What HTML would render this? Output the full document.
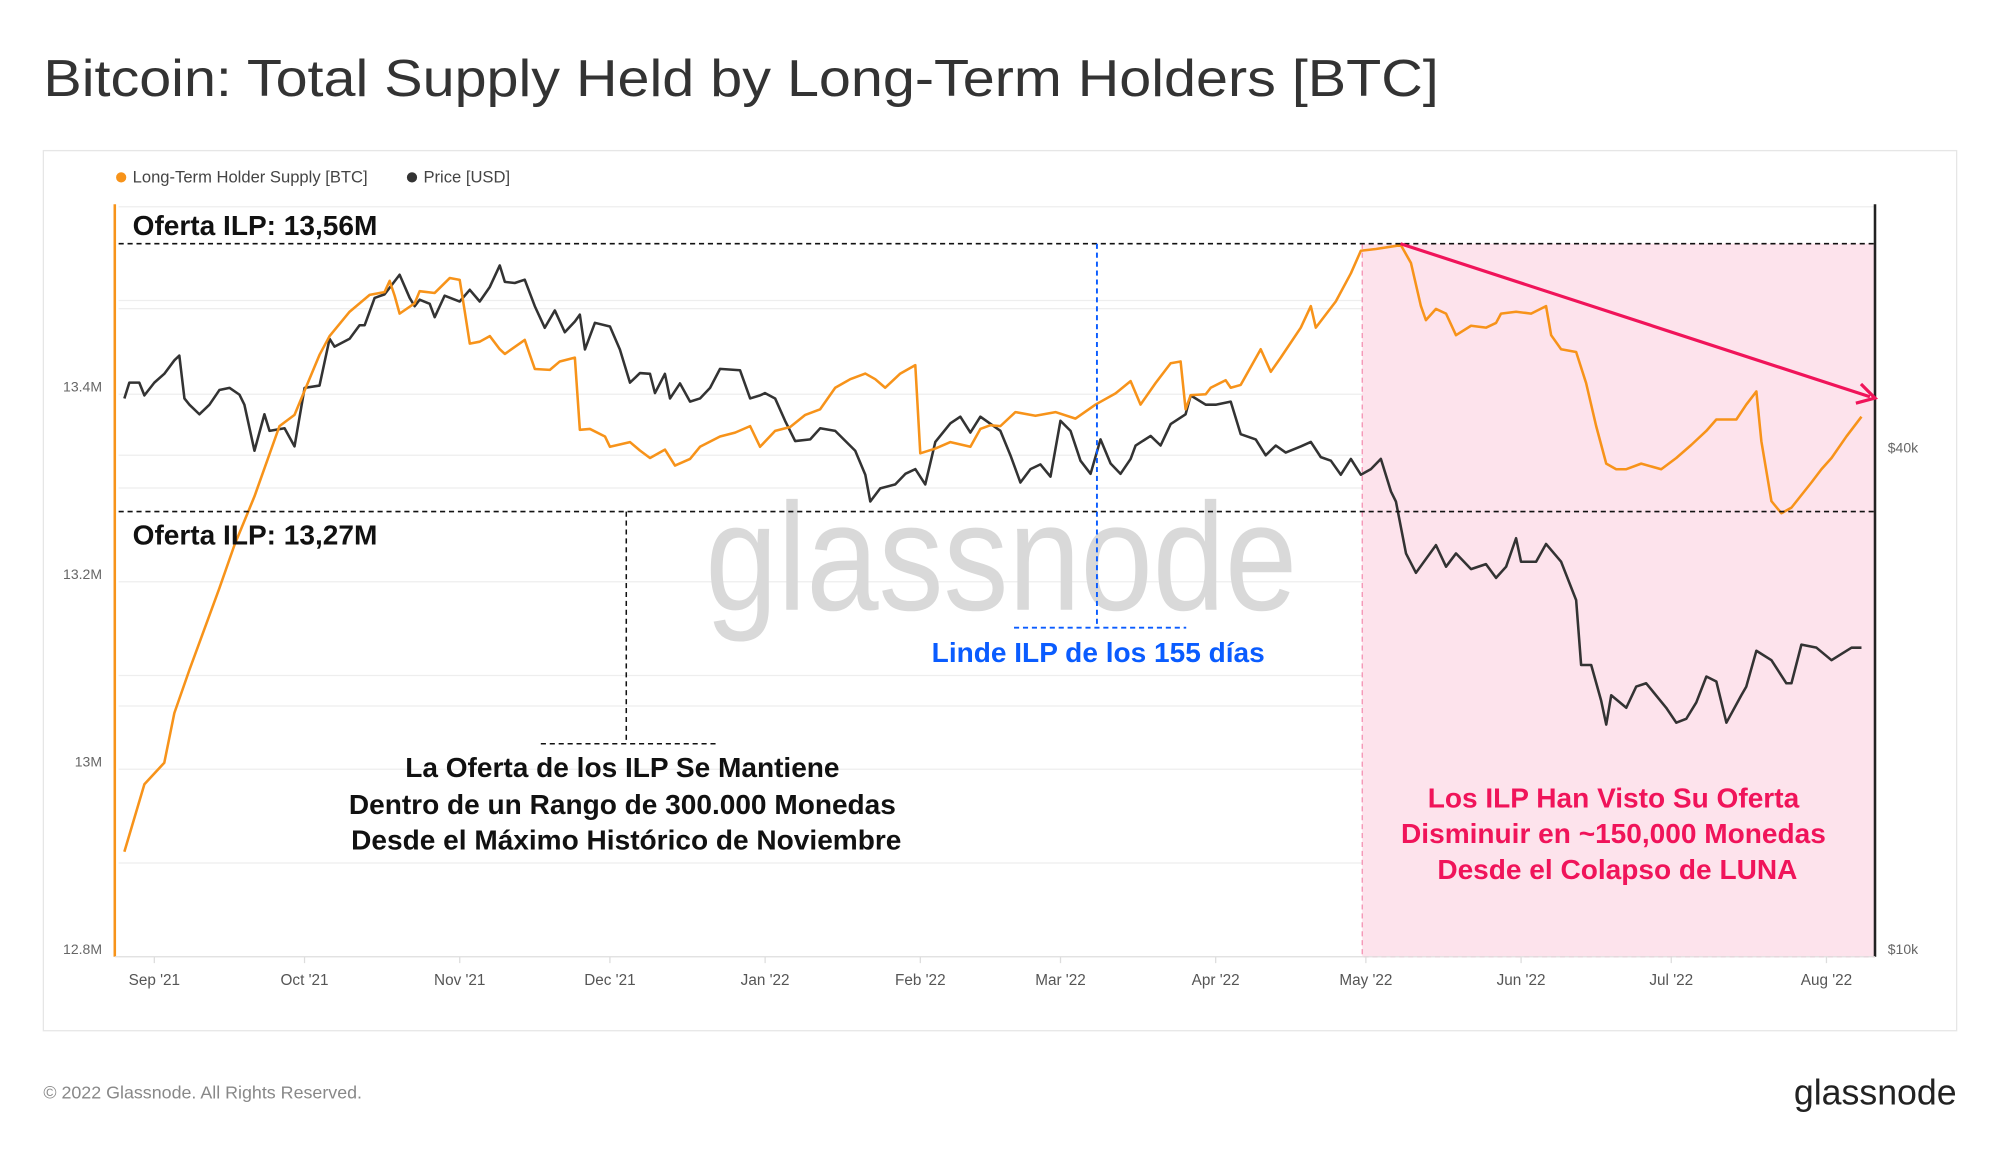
<!DOCTYPE html>
<html><head><meta charset="utf-8"><style>
html,body{margin:0;padding:0;background:#fff;}
svg{display:block;font-family:"Liberation Sans",sans-serif;}
</style></head><body>
<svg id="chart" width="2000" height="1152" viewBox="0 0 1568 903" xmlns="http://www.w3.org/2000/svg">
<text x="34" y="75" font-size="41" fill="#333" textLength="1094" lengthAdjust="spacingAndGlyphs">Bitcoin: Total Supply Held by Long-Term Holders [BTC]</text>
<rect x="34" y="118" width="1500" height="690" fill="#fff" stroke="#e6e6e6"/>
<g>
<circle cx="95" cy="139" r="4" fill="#f7931a"/>
<text x="104" y="143" font-size="13" fill="#444">Long-Term Holder Supply [BTC]</text>
<circle cx="323" cy="139" r="4" fill="#333"/>
<text x="332" y="143" font-size="13" fill="#444">Price [USD]</text>
</g>
<g id="grid"></g>
<rect x="1068" y="191" width="402" height="559" fill="#fde3ec"/>
<path d="M1068 191 V750 H1470" fill="none" stroke="#f48fb1" stroke-dasharray="4,3"/>
<text x="553" y="478" font-size="120" fill="#d9d9d9" textLength="464" lengthAdjust="spacingAndGlyphs">glassnode</text>
<g id="axes"></g>
<g id="series"></g>
<g>
<line x1="93" y1="191" x2="1470" y2="191" stroke="#111" stroke-width="1.3" stroke-dasharray="4,3"/>
<line x1="93" y1="401" x2="1470" y2="401" stroke="#111" stroke-width="1.3" stroke-dasharray="4,3"/>
<text x="104" y="184" font-size="22" font-weight="bold" fill="#111">Oferta ILP: 13,56M</text>
<text x="104" y="427" font-size="22" font-weight="bold" fill="#111">Oferta ILP: 13,27M</text>
<line x1="491" y1="401" x2="491" y2="583" stroke="#111" stroke-width="1.2" stroke-dasharray="4,3"/>
<line x1="424" y1="583" x2="562" y2="583" stroke="#111" stroke-width="1.2" stroke-dasharray="4,3"/>
<text font-size="22" font-weight="bold" fill="#111" text-anchor="middle">
<tspan x="491" y="609">La Oferta de los ILP Se Mantiene</tspan>
<tspan x="491" y="638">Dentro de un Rango de 300.000 Monedas</tspan>
<tspan x="491" y="666">Desde el Máximo Histórico de Noviembre</tspan>
</text>
<line x1="860" y1="191" x2="860" y2="492" stroke="#0a5cff" stroke-width="1.5" stroke-dasharray="4,3"/>
<line x1="795" y1="492" x2="930" y2="492" stroke="#0a5cff" stroke-width="1.5" stroke-dasharray="4,3"/>
<text x="861" y="519" font-size="22" font-weight="bold" fill="#0a5cff" text-anchor="middle">Linde ILP de los 155 días</text>
<line x1="1098" y1="191" x2="1466" y2="311" stroke="#f0145a" stroke-width="2.5"/>
<path d="M1459 301 L1470 312 L1455 316" fill="none" stroke="#f0145a" stroke-width="2.5"/>
<text font-size="22" font-weight="bold" fill="#f0145a" text-anchor="middle">
<tspan x="1268" y="633">Los ILP Han Visto Su Oferta</tspan>
<tspan x="1268" y="661">Disminuir en ~150,000 Monedas</tspan>
<tspan x="1268" y="689">Desde el Colapso de LUNA</tspan>
</text>
</g>
<text x="34" y="861" font-size="14" fill="#888">© 2022 Glassnode. All Rights Reserved.</text>
<text x="1534" y="866" font-size="28" fill="#222" text-anchor="end">glassnode</text>
</svg>
<script>
// days since 2021-09-01
const supplyDays = [-6,-2,2,4,7,13,16,20,25,28,33,35,39,43,46,47,48,49,52,53,56,59,61,62,63,65,67,69,70,74,76,79,81,84,85,87,90,91,95,97,99,102,104,107,109,113,116,119,121,124,127,130,133,136,139,142,144,146,149,152,153,156,159,163,165,167,169,172,176,180,184,188,192,195,197,200,203,205,206,207,210,211,214,215,217,221,223,225,229,231,232,236,239,241,244,249,251,253,254,256,258,260,263,266,268,269,272,275,278,279,281,284,286,288,290,292,294,297,301,304,307,310,312,316,318,320,321,323,325,327,331,333,335,338,341];
const supplyValues = [12.912,12.984,13.007,13.060,13.106,13.193,13.239,13.291,13.366,13.378,13.442,13.462,13.488,13.506,13.509,13.521,13.505,13.486,13.497,13.510,13.508,13.524,13.522,13.488,13.454,13.456,13.462,13.448,13.443,13.458,13.427,13.426,13.435,13.439,13.362,13.363,13.355,13.344,13.349,13.340,13.332,13.341,13.324,13.331,13.344,13.355,13.359,13.366,13.344,13.361,13.365,13.378,13.384,13.407,13.416,13.422,13.416,13.407,13.422,13.431,13.337,13.342,13.349,13.344,13.363,13.367,13.366,13.381,13.377,13.381,13.374,13.389,13.401,13.414,13.389,13.412,13.433,13.435,13.384,13.399,13.400,13.407,13.415,13.407,13.410,13.448,13.424,13.439,13.471,13.494,13.471,13.499,13.529,13.553,13.555,13.559,13.540,13.494,13.479,13.491,13.486,13.463,13.473,13.471,13.476,13.486,13.488,13.486,13.494,13.463,13.448,13.445,13.412,13.366,13.326,13.320,13.320,13.326,13.320,13.332,13.346,13.361,13.373,13.373,13.389,13.403,13.350,13.286,13.273,13.279,13.306,13.320,13.332,13.355,13.376];
const priceDays = [-6,-5,-3,-2,0,2,4,5,6,7,9,11,13,15,17,18,20,22,23,26,28,30,33,35,36,39,41,42,44,46,49,51,52,53,55,56,58,61,63,65,67,69,70,72,74,76,78,80,82,84,85,86,88,91,93,95,97,99,100,102,103,105,107,109,111,113,117,119,121,122,124,126,128,131,133,136,140,142,143,145,148,150,152,154,156,159,161,163,165,169,171,173,175,177,179,181,183,185,187,189,191,193,195,196,199,201,203,206,207,210,212,215,217,220,222,224,226,229,231,233,235,237,239,241,243,245,247,248,250,252,256,258,260,263,266,268,270,272,273,276,278,281,284,285,287,289,290,291,294,296,298,302,304,306,308,310,312,314,317,318,320,323,326,327,329,332,335,337,339,341];
const priceValues = [46.8,48.9,48.9,47.2,48.9,50.1,52.0,52.7,46.8,46.0,44.8,46.0,47.9,48.2,47.3,46.0,40.5,44.8,42.8,43.1,41.0,48.2,48.5,55.2,54.0,55.2,57.3,57.3,61.8,62.4,65.9,61.8,60.4,61.5,60.8,58.6,62.2,61.2,63.2,61.2,63.7,67.6,64.6,64.4,65.0,60.4,56.9,59.7,56.2,57.9,59.0,53.6,57.7,57.1,53.6,48.9,50.2,50.1,47.5,50.1,46.8,48.8,46.4,46.8,48.2,50.8,50.6,46.8,47.2,47.5,46.8,44.0,41.6,41.8,43.1,42.8,40.5,37.9,35.2,36.5,36.9,38.0,38.5,36.9,41.5,43.7,44.5,42.6,44.5,42.8,40.0,37.1,38.5,39.0,37.7,44.0,42.8,39.4,38.0,41.8,39.1,38.0,39.6,41.1,42.2,41.1,43.6,44.8,47.2,46.0,46.0,46.4,42.4,41.8,40.0,41.1,40.3,41.0,41.5,39.8,39.4,37.9,39.6,37.9,38.5,39.6,36.2,35.2,30.5,28.9,31.2,29.4,30.5,29.2,29.6,28.5,29.4,31.8,29.8,29.8,31.3,29.8,26.8,22.4,22.4,20.3,19.0,20.6,19.9,21.1,21.3,19.9,19.1,19.3,20.2,21.7,21.4,19.1,20.6,21.1,23.3,22.7,21.3,21.3,23.7,23.5,22.7,23.1,23.5,23.5];
const monthLabels = ["Sep '21","Oct '21","Nov '21","Dec '21","Jan '22","Feb '22","Mar '22","Apr '22","May '22","Jun '22","Jul '22","Aug '22"];
const monthDays = [0,30,61,91,122,153,181,212,242,273,303,334];
const supplyTicks = [12.8,13,13.2,13.4];
const supplyTickLabels = ["12.8M","13M","13.2M","13.4M"];
const supplyGrid = [12.8,12.9,13.0,13.1,13.2,13.3,13.4,13.5,13.6];
const priceTicks = [10,40];
const priceTickLabels = ["$10k","$40k"];
const priceGrid = [20,40,60];

const NS = "http://www.w3.org/2000/svg";
const xDay = d => 121 + d * 3.925;
const ySup = v => 750 - (v - 12.8) * 735;
const yPrice = p => 750 - Math.log10(p / 10) * 653;
function mk(tag, attrs, parent, txt) {
  const e = document.createElementNS(NS, tag);
  for (const k in attrs) e.setAttribute(k, attrs[k]);
  if (txt !== undefined) e.textContent = txt;
  parent.appendChild(e);
  return e;
}
const grid = document.getElementById('grid');
const axes = document.getElementById('axes');
const series = document.getElementById('series');
supplyGrid.forEach(v => {
  const l = mk('line', {x1: 93, x2: 1470, y1: ySup(v), y2: ySup(v), stroke: '#eeeeee', 'stroke-width': 1}, grid);
  
  
});
priceGrid.forEach(p => {
  const l = mk('line', {x1: 93, x2: 1470, y1: yPrice(p), y2: yPrice(p), stroke: '#eeeeee', 'stroke-width': 1}, grid);
  
  
});
const la = mk('line', {x1: 90, x2: 90, y1: 160, y2: 750, stroke: '#f7931a', 'stroke-width': 2}, axes);


const ra = mk('line', {x1: 1470, x2: 1470, y1: 160, y2: 750, stroke: '#222', 'stroke-width': 2}, axes);


const ba = mk('line', {x1: 90, x2: 1470, y1: 750, y2: 750, stroke: '#e0e0e0', 'stroke-width': 1}, axes);


supplyTicks.forEach((v, i) => {
  const t = mk('text', {x: 80, y: ySup(v) - 2, 'font-size': 11, fill: '#666', 'text-anchor': 'end'}, axes, supplyTickLabels[i]);
  
  
});
priceTicks.forEach((p, i) => {
  const t = mk('text', {x: 1480, y: yPrice(p) - 2, 'font-size': 11, fill: '#666'}, axes, priceTickLabels[i]);
  
  
});
monthDays.forEach((d, i) => {
  const tk = mk('line', {x1: xDay(d), x2: xDay(d), y1: 750, y2: 755, stroke: '#ddd'}, axes);
  
  
  const t = mk('text', {x: xDay(d), y: 772, 'font-size': 12, fill: '#555', 'text-anchor': 'middle'}, axes, monthLabels[i]);
  
  
});
const supPath = supplyDays.map((d, i) => (i ? 'L' : 'M') + xDay(d).toFixed(1) + ' ' + ySup(supplyValues[i]).toFixed(1)).join(' ');
const pricePath = priceDays.map((d, i) => (i ? 'L' : 'M') + xDay(d).toFixed(1) + ' ' + yPrice(priceValues[i]).toFixed(1)).join(' ');
const pl = mk('path', {d: pricePath, fill: 'none', stroke: '#333', 'stroke-width': 2, 'stroke-linejoin': 'round'}, series);


const sl = mk('path', {d: supPath, fill: 'none', stroke: '#f7931a', 'stroke-width': 2, 'stroke-linejoin': 'round'}, series);


</script>
</body></html>
